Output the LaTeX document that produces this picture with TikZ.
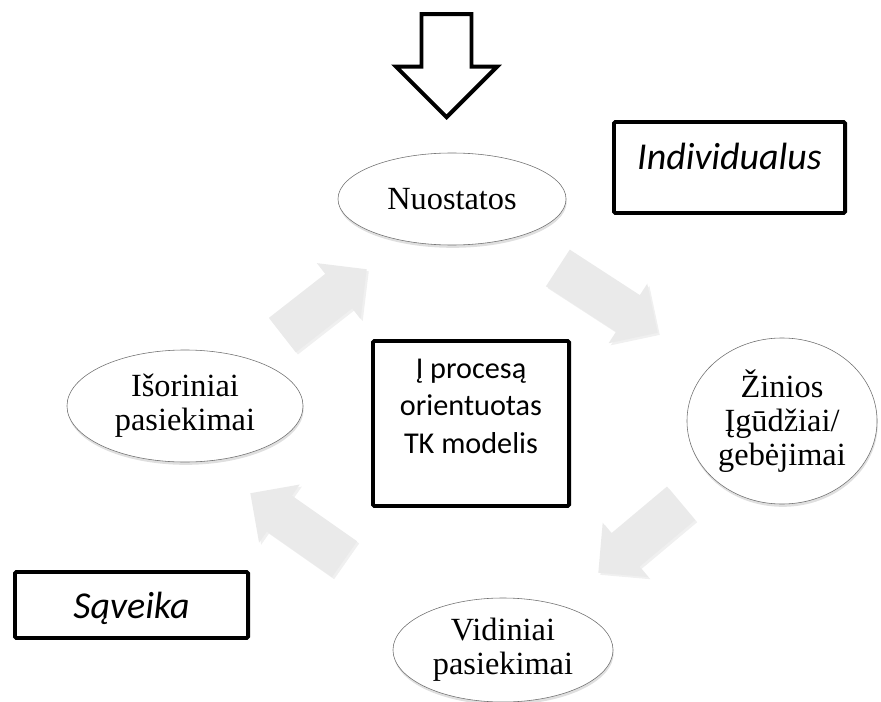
\documentclass[tikz,border=0pt]{standalone}
\usepackage{fontspec}
\setmainfont{Liberation Serif}
\newfontfamily\calibri{Carlito}
\usepackage{tikz}
\usetikzlibrary{positioning,shapes.geometric,shapes.arrows,shadows}
\definecolor{rim}{HTML}{6E6E6E}
\definecolor{flowgray}{HTML}{EAEAEA}
\tikzset{
  oval/.style={ellipse, draw=rim, fill=white, thin, align=center, inner sep=0pt,
               font=\fontsize{23}{24}\selectfont,
               drop shadow={shadow xshift=0.5pt, shadow yshift=-2pt, opacity=.25}},
  frame/.style={rectangle, rounded corners=1pt, draw=black, line width=2.8pt, fill=white,
                align=center, font=\calibri\itshape\fontsize{27}{30}\selectfont},
  cycarrow/.style={single arrow, fill=flowgray, draw=none, inner xsep=0pt, inner ysep=0.54cm,
                   single arrow head extend=0.34cm, single arrow head indent=0pt, anchor=tip,
                   drop shadow={shadow xshift=1.5pt, shadow yshift=-1.5pt, opacity=.12}},
  entry/.style={single arrow, draw=black, fill=white, line width=2.8pt, inner xsep=0pt,
                inner ysep=0.575cm, single arrow head extend=0.64cm, minimum height=2.575cm,
                anchor=tip, rotate=-90}
}

\begin{document}
\begin{tikzpicture}[x=0.025cm, y=-0.025cm]
\useasboundingbox (0,0) rectangle (881,702);
% arrows of the cycle
\node[cycarrow, minimum height=2.675cm, rotate=38] (a1) at (367,269) {};
\node[cycarrow, minimum height=2.975cm, rotate=-33] (a2) at (658,333) {};
\node[cycarrow, minimum height=2.7cm, rotate=-140] (a3) at (598,573) {};
\node[cycarrow, minimum height=2.875cm, rotate=145] (a4) at (250,493) {};
% stages
\node[oval, minimum width=5.7cm, minimum height=2.3cm] (nuo) at (452,199) {Nuostatos};
\node[oval, minimum width=4.75cm, minimum height=4.15cm] (zin) at (782,421) {Žinios\\Įgūdžiai/\\gebėjimai};
\node[oval, minimum width=5.5cm, minimum height=2.6cm] (vid) at (503,650) {Vidiniai\\pasiekimai};
\node[oval, minimum width=5.9cm, minimum height=2.8cm] (iso) at (185,406) {Išoriniai\\pasiekimai};
% frames
\node[frame, minimum width=4.9cm, minimum height=4.125cm] (model) at (471,423.5) {};
\node[below=0.38cm of model.north, align=center, font=\calibri\fontsize{21.5}{26.5}\selectfont] (modeltxt) {Į procesą\\orientuotas\\TK modelis};
\node[frame, minimum width=5.775cm, minimum height=2.275cm, text depth=0.54cm] (ind) at (729.5,167.5) {Individualus};
\node[frame, minimum width=5.825cm, minimum height=1.65cm, text depth=0pt] (sav) at (131.5,605) {Sąveika};
% input arrow
\node[entry] (in) at (446.5,120) {};
\end{tikzpicture}
\end{document}
